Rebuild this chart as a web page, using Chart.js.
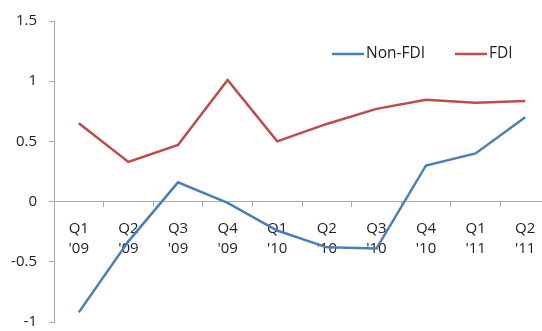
<!DOCTYPE html>
<html>
<head>
<meta charset="utf-8">
<script src="https://cdn.jsdelivr.net/npm/chart.js@4"></script>
<style>
html,body{margin:0;padding:0;background:#fff;overflow:hidden;}
#wrap{position:relative;width:550px;height:331px;overflow:hidden;}
</style>
</head>
<body>
<div id="wrap"><canvas id="c" width="550" height="343"></canvas></div>
<script>
const categories = [["Q1","'09"],["Q2","'09"],["Q3","'09"],["Q4","'09"],["Q1","'10"],["Q2","'10"],["Q3","'10"],["Q4","'10"],["Q1","'11"],["Q2","'11"]];
const nonFDI = [-0.92, -0.33, 0.16, -0.01, -0.24, -0.38, -0.39, 0.30, 0.40, 0.70];
const fdi = [0.65, 0.33, 0.47, 1.01, 0.50, 0.645, 0.77, 0.845, 0.82, 0.835];
const seriesNames = ["Non-FDI", "FDI"];
const yTicks = {min: -1, max: 1.5, step: 0.5};

const FONT = "'Open Sans', sans-serif";
const colors = ["#4a7ebb", "#be4b48"];

const legendPlugin = {
  id: 'inLegend',
  afterDraw(chart) {
    const ctx = chart.ctx;
    const ca = chart.chartArea;
    ctx.save();
    ctx.font = "15.5px " + FONT;
    ctx.textBaseline = 'middle';
    ctx.fillStyle = '#222';
    const y = ca.top + 33;
    const items = [
      {x: 332, name: seriesNames[0], color: colors[0]},
      {x: 455, name: seriesNames[1], color: colors[1]}
    ];
    items.forEach(it => {
      ctx.strokeStyle = it.color;
      ctx.lineWidth = 2.5;
      ctx.beginPath();
      ctx.moveTo(it.x, y);
      ctx.lineTo(it.x + 32, y);
      ctx.stroke();
      ctx.fillText(it.name, it.x + 34, y);
    });
    ctx.restore();
  }
};

new Chart(document.getElementById('c'), {
  type: 'line',
  data: {
    labels: categories,
    datasets: [
      {label: seriesNames[0], data: nonFDI, borderColor: colors[0], backgroundColor: colors[0], borderWidth: 2.5, pointRadius: 0, tension: 0},
      {label: seriesNames[1], data: fdi, borderColor: colors[1], backgroundColor: colors[1], borderWidth: 2.5, pointRadius: 0, tension: 0}
    ]
  },
  options: {
    responsive: false,
    animation: false,
    layout: {padding: {top: 11, bottom: 0, right: 0, left: 0}},
    plugins: {legend: {display: false}, tooltip: {enabled: false}},
    scales: {
      x: {
        position: {y: 0},
        offset: true,
        afterFit(scale) { scale.height = 0; },
        grid: {display: true, drawOnChartArea: false, offset: true, color: '#aaa', tickLength: 5},
        border: {display: true, color: '#aaa', width: 1},
        ticks: {color: '#222', font: {family: FONT, size: 15, lineHeight: 1.35}, padding: 12, maxRotation: 0, autoSkip: false}
      },
      y: {
        min: yTicks.min, max: yTicks.max,
        afterFit(scale) { scale.width = 54; },
        ticks: {stepSize: yTicks.step, color: '#222', font: {family: FONT, size: 15}, padding: 12,
          callback: (v) => String(Math.round(v * 10) / 10)},
        grid: {display: true, drawOnChartArea: false, color: '#aaa', tickLength: 5},
        border: {display: true, color: '#aaa', width: 1}
      }
    }
  },
  plugins: [legendPlugin]
});
</script>
</body>
</html>
